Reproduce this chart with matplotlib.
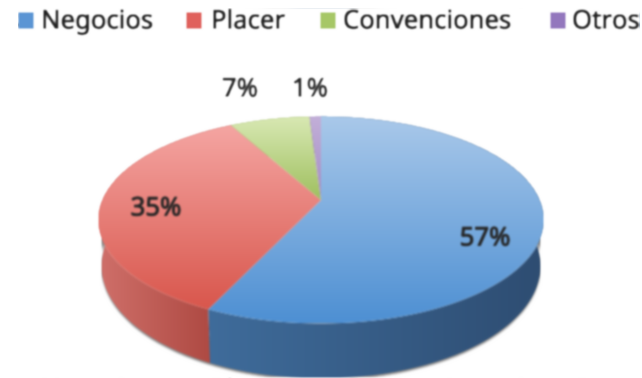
import numpy as np
import matplotlib
matplotlib.use("Agg")
import matplotlib.pyplot as plt
import matplotlib.patheffects as pe
from matplotlib.patches import Polygon, Rectangle

categories = ["Negocios", "Placer", "Convenciones", "Otros"]
values = [57, 35, 7, 1]
labels = ["57%", "35%", "7%", "1%"]

# colours: top of the face, bottom of the face, side left, side right
topColors = [("#aac9ea", "#4e90d3"), ("#f5a6a3", "#d9574d"), ("#d9e9b4", "#9fc05f"), ("#c3b0d9", "#a48cc4")]
sideColors = [("#3f6c9b", "#2e4d72"), ("#d0706a", "#a8433c"), ("#8aa650", "#7b9645"), ("#7a5f9b", "#6d5490")]
legendColors = ["#5b95d4", "#e0615c", "#a6c766", "#9377bd"]

plt.rcParams["font.family"] = ["Noto Sans", "DejaVu Sans"]

# pie geometry in pixels
cx, cy = 321, 200
persp = 0.19
radX, radY = 219, 100
depth = 44.5
labelPos = [(485, 239), (156, 209), (240, 90), (310, 90)]
legendSquares = [18, 186, 320, 550]
legendText = [41, 211, 343, 572]


def blur(img, dpi, n=2):
    # soft like the scaled up original
    out = img.copy()
    for _ in range(n):
        for ax in (0, 1):
            out = (np.roll(out, 1, ax) + 2 * out + np.roll(out, -1, ax)) / 4
    return out, 0, 0


def blurWide(img, dpi):
    return blur(img, dpi, 4)


def rim(theta, scale=1.0, drop=0.0):
    # theta clockwise from the back of the disc, perspective gives the off centre apex
    u, v = np.sin(theta), np.cos(theta)
    w = 1 + persp * v
    return cx + scale * radX * u / w, cy - radY * v / w + drop / w


def gradient(ax, poly, c1, c2, vertical=True):
    xy = poly.get_xy()
    x0, x1, y0, y1 = xy[:, 0].min(), xy[:, 0].max(), xy[:, 1].min(), xy[:, 1].max()
    a, b = np.array(matplotlib.colors.to_rgb(c1)), np.array(matplotlib.colors.to_rgb(c2))
    t = np.linspace(0, 1, 128)
    row = a[None, :] * (1 - t[:, None]) + b[None, :] * t[:, None]
    arr = row[:, None, :] if vertical else row[None, :, :]
    im = ax.imshow(arr, extent=(x0, x1, y1, y0), aspect="auto", interpolation="bilinear", zorder=poly.get_zorder())
    poly.set_facecolor("none")
    poly.set_edgecolor("none")
    ax.add_patch(poly)
    im.set_clip_path(poly)


fig = plt.figure(figsize=(6.42, 3.78), dpi=100)
ax = fig.add_axes([0, 0, 1, 1])
ax.axis("off")
ax.set_agg_filter(blur)

edges = np.cumsum([0] + values) / sum(values) * 2 * np.pi

# soft shadow below the side
tt = np.linspace(np.pi * 0.42, np.pi * 1.58, 200)
sx, sy = rim(tt, 0.985, depth + 2)
shadow = Polygon(np.column_stack([np.r_[sx, sx[::-1]], np.r_[sy, sy[::-1] - 30]]), facecolor="#777777", edgecolor="none", zorder=1)
shadow.set_agg_filter(blurWide)
ax.add_patch(shadow)

# sides, back ones first
for i in [3, 2, 1, 0]:
    t = np.linspace(edges[i], edges[i + 1], 120)
    x1, y1 = rim(t)
    x2, y2 = rim(t, 0.985, depth)
    side = Polygon(np.column_stack([np.r_[x1, x2[::-1]], np.r_[y1, y2[::-1]]]), zorder=2)
    gradient(ax, side, sideColors[i][0], sideColors[i][1], vertical=False)

# top faces
for i in range(4):
    t = np.linspace(edges[i], edges[i + 1], 200)
    x1, y1 = rim(t)
    face = Polygon(np.column_stack([np.r_[cx, x1], np.r_[cy, y1]]), zorder=3)
    gradient(ax, face, topColors[i][0], topColors[i][1])

ax.set_xlim(0, 642)
ax.set_ylim(378, 0)

stroke = [pe.withStroke(linewidth=0.6, foreground="#262626")]
for i, lab in enumerate(labels):
    ax.text(labelPos[i][0], labelPos[i][1], lab, ha="center", va="center", fontsize=18.5, color="#262626", zorder=5, path_effects=stroke)

for i, cat in enumerate(categories):
    sq = Rectangle((legendSquares[i], 12), 16, 17, facecolor=legendColors[i], edgecolor="none", zorder=5)
    ax.add_patch(sq)
    ax.text(legendText[i], 22, cat, ha="left", va="center", fontsize=18.5, color="#1f1f1f", zorder=5, path_effects=stroke)

fig.savefig("out.png", dpi=100)
